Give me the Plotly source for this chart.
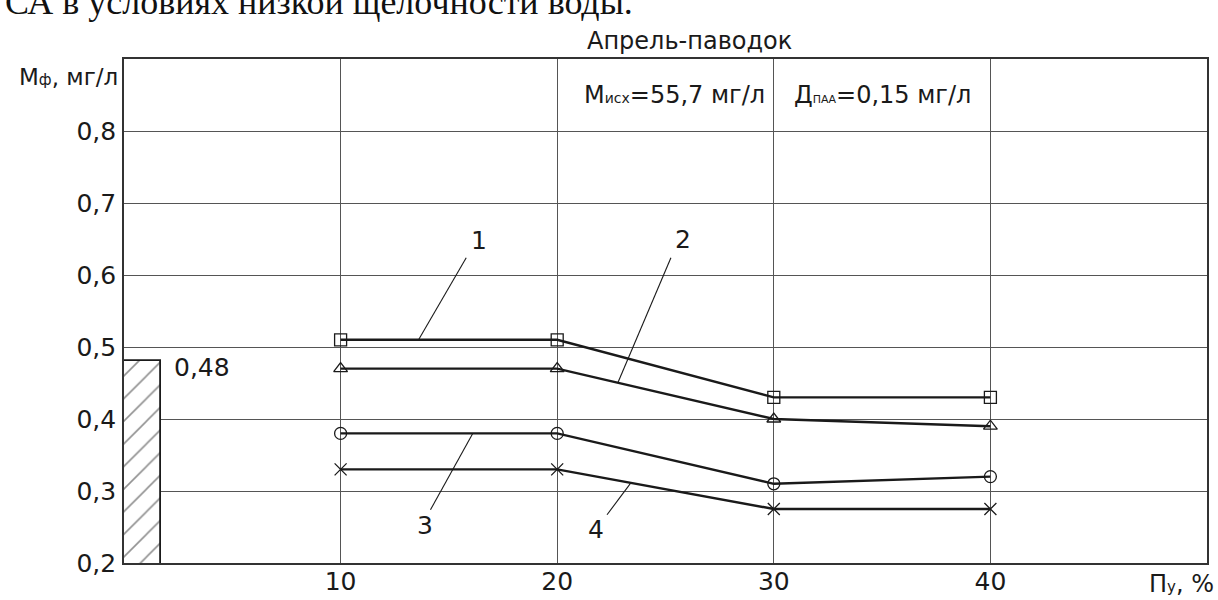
import numpy as np
import plotly.graph_objects as go

# Степень удаления (Пу, %) и остаточная мутность Мф, мг/л для четырёх режимов
removal_pct = [10, 20, 30, 40]
curve_1 = [0.51, 0.51, 0.43, 0.43]
curve_2 = [0.47, 0.47, 0.40, 0.39]
curve_3 = [0.38, 0.38, 0.31, 0.32]
curve_4 = [0.33, 0.33, 0.275, 0.275]
curve_labels = ["1", "2", "3", "4"]

# Нормативное значение (заштрихованный столбик)
limit_value = 0.48

x_ticks = [10, 20, 30, 40]
x_tick_text = ["10", "20", "30", "40"]
y_ticks = [0.2, 0.3, 0.4, 0.5, 0.6, 0.7, 0.8]
y_tick_text = ["0,2", "0,3", "0,4", "0,5", "0,6", "0,7", "0,8"]

FONT = "DejaVu Sans"
INK = "#1a1a1a"
GRID = "#555555"

fig = go.Figure()

# Заштрихованный столбик норматива
fig.add_trace(go.Bar(
    x=[0.85], y=[limit_value], width=1.7,
    marker=dict(
        color="white",
        line=dict(color=INK, width=1.8),
        pattern=dict(shape="/", fgcolor="#222222", bgcolor="white",
                     size=16, solidity=0.1),
    ),
    hoverinfo="skip",
))

series = [
    (curve_1, "square-open"),
    (curve_2, "triangle-up-open"),
    (curve_3, "circle-open"),
    (curve_4, "x-thin-open"),
]
for values, symbol in series:
    fig.add_trace(go.Scatter(
        x=removal_pct, y=values, mode="lines+markers",
        line=dict(color=INK, width=2.4),
        marker=dict(symbol=symbol, size=12, color=INK,
                    line=dict(color=INK, width=1.3)),
    ))

# Выноски с номерами кривых: (кривая, точка на кривой по x, начало выноски, подпись)
callouts = [
    (curve_1, 13.6, (15.8, 0.624), (16.4, 0.648)),
    (curve_2, 22.8, (25.25, 0.624), (25.8, 0.650)),
    (curve_3, 16.1, (14.15, 0.274), (13.9, 0.252)),
    (curve_4, 23.4, (22.3, 0.267), (21.8, 0.247)),
]
for (values, xe, start, lab), text in zip(callouts, curve_labels):
    ye = float(np.interp(xe, removal_pct, values))
    fig.add_trace(go.Scatter(
        x=[start[0], xe], y=[start[1], ye], mode="lines",
        line=dict(color=INK, width=1.1), hoverinfo="skip",
    ))
    fig.add_annotation(x=lab[0], y=lab[1], text=text, showarrow=False,
                       font=dict(family=FONT, size=25, color=INK))

# Подпись норматива
fig.add_annotation(x=2.2, y=limit_value - 0.008, xanchor="left",
                   text=f"{limit_value:.2f}".replace(".", ","), showarrow=False,
                   font=dict(family=FONT, size=25, color=INK))

# Исходные условия в верхней строке сетки
fig.add_annotation(x=25.4, y=0.85, showarrow=False,
                   text="М<span style='font-size:14px'>исх</span>=55,7 мг/л",
                   font=dict(family=FONT, size=24, color=INK))
fig.add_annotation(x=35.0, y=0.85, showarrow=False,
                   text="Д<span style='font-size:11px'>ПАА</span>=0,15 мг/л",
                   font=dict(family=FONT, size=24, color=INK))

# Подписи осей
fig.add_annotation(xref="paper", yref="paper", x=-0.004, y=0.994,
                   xanchor="right", showarrow=False,
                   text="М<span style='font-size:15px'>ф</span>, мг/л",
                   font=dict(family=FONT, size=23, color=INK))
fig.add_annotation(xref="paper", yref="paper", x=1.008, y=-0.042,
                   xanchor="right", yanchor="middle", showarrow=False,
                   text="П<span style='font-size:15px'>у</span>, %",
                   font=dict(family=FONT, size=24, color=INK))

# Заголовок
fig.add_annotation(xref="paper", yref="paper", x=0.5226, y=1.068,
                   showarrow=False, text="Апрель-паводок",
                   font=dict(family=FONT, size=24, color=INK))

# Строка текста документа над рисунком
fig.add_annotation(xref="paper", yref="paper", x=-0.112, y=1.113,
                   xanchor="left", yanchor="middle", showarrow=False,
                   text="СА в условиях низкой щелочности воды.",
                   font=dict(family="Liberation Serif", size=36, color="#111111"))

fig.update_layout(
    width=1218, height=600,
    margin=dict(l=124, r=11, t=59, b=37),
    plot_bgcolor="white", paper_bgcolor="white",
    showlegend=False,
    font=dict(family=FONT, size=25, color=INK),
    bargap=0,
)
fig.update_xaxes(
    range=[0, 50], tickvals=x_ticks, ticktext=x_tick_text,
    showgrid=True, gridcolor=GRID, gridwidth=1.3,
    showline=True, mirror=True, linecolor="#333333", linewidth=1.6,
    zeroline=False, ticks="", automargin=False, ticklabelstandoff=-5,
    tickfont=dict(family=FONT, size=25, color=INK),
)
fig.update_yaxes(
    range=[0.2, 0.9], tickvals=y_ticks, ticktext=y_tick_text,
    showgrid=True, gridcolor=GRID, gridwidth=1.3,
    showline=True, mirror=True, linecolor="#333333", linewidth=1.6,
    zeroline=False, ticks="", automargin=False, ticklabelstandoff=1,
    tickfont=dict(family=FONT, size=25, color=INK),
)

fig.write_html("out.html")
